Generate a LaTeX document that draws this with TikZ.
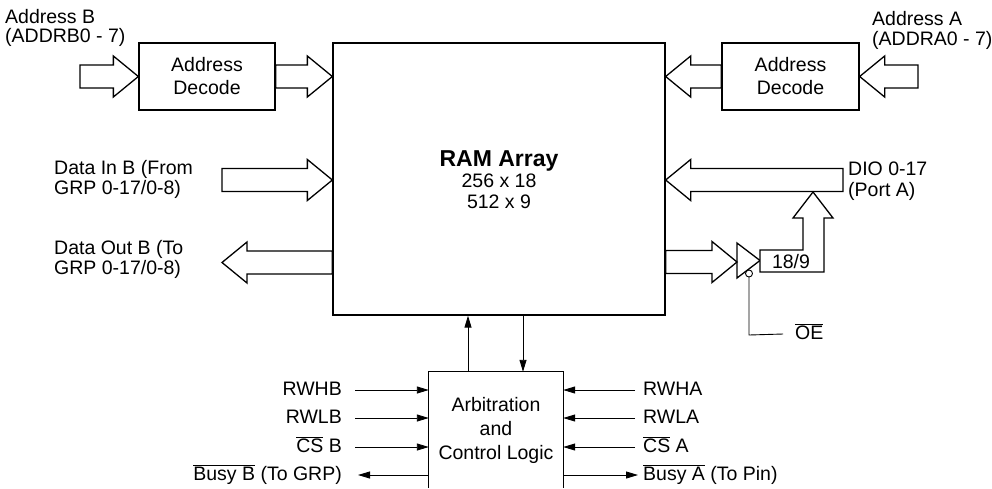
\documentclass[tikz,border=0pt]{standalone}
\usepackage{fontspec}
\setmainfont{Liberation Sans}
\usetikzlibrary{arrows.meta,calc}

\newcommand{\ovl}[1]{$\overline{\mbox{#1}}$}
% hollow bus arrow from tail #1 to tip #2 (horizontal)
\newcommand{\hbus}[2]{%
  \draw[bus] let \p1=(#1), \p2=(#2), \n1={sign(\x2-\x1)} in
    (\x1,\y2+11.5pt) -- ({\x2-(\n1)*25pt},\y2+11.5pt) -- ({\x2-(\n1)*25pt},\y2+20.5pt)
    -- (\x2,\y2) -- ({\x2-(\n1)*25pt},\y2-20.5pt) -- ({\x2-(\n1)*25pt},\y2-11.5pt)
    -- (\x1,\y2-11.5pt) -- cycle;}

\begin{document}
\begin{tikzpicture}[
  x=1pt, y=-1pt,
  font=\fontsize{19.5}{20}\selectfont,
  blk/.style={draw=black, line width=1.3pt, inner sep=0pt},
  bus/.style={draw=black, line width=1.3pt, fill=white, line join=miter},
  sig/.style={draw=black, line width=0.9pt, -{Triangle[length=12pt,width=7pt]}},
  lbl/.style={align=left, inner sep=0pt},
  pin/.style={inner sep=0pt, text height=14pt, text depth=4pt}
]
\useasboundingbox (0,0) rectangle (992,488);

% --- Blocks ---
\node[blk, minimum width=332, minimum height=272] (ram) at (499,179) {};
\node[align=center, font=\fontsize{19.5}{21}\selectfont] (ramtxt) at (499,180)
  {{\fontsize{23}{24}\selectfont\bfseries RAM Array}\\256 x 18\\512 x 9};
\node[blk, minimum width=136, minimum height=67, align=center,
  font=\fontsize{19.5}{23}\selectfont] (ldec) at (207,76.5) {Address\\Decode};
\node[blk, minimum width=137, minimum height=67, align=center,
  font=\fontsize{19.5}{23}\selectfont] (rdec) at (790.5,76.5) {Address\\Decode};
\node[minimum width=134, minimum height=116, inner sep=0pt, align=center,
  font=\fontsize{19.5}{24}\selectfont] (arb) at (496,430) {Arbitration\\and\\Control Logic};
\draw[blk] (arb.south west) -- (arb.north west) -- (arb.north east) -- (arb.south east);

% --- Port labels ---
\node[lbl, anchor=west, font=\fontsize{19.5}{19}\selectfont] (addrb) at (5,27.5) {Address B\\(ADDRB0 - 7)};
\node[lbl, anchor=west, font=\fontsize{19.5}{20}\selectfont] (addra) at (872,30) {Address A\\(ADDRA0 - 7)};
\node[lbl, anchor=west] (dinb) at (54,179) {Data In B (From\\GRP 0-17/0-8)};
\node[lbl, anchor=west] (doutb) at (54,259) {Data Out B (To\\GRP 0-17/0-8)};
\node[lbl, anchor=west, font=\fontsize{19.5}{21}\selectfont] (dio) at (848,181) {DIO 0-17\\(Port A)};

% --- Bus arrows ---
\coordinate (addrbin) at (80,76.5);
\coordinate (addrain) at (918,76.5);
\coordinate (dinbin) at (222,180);
\coordinate (doutbout) at (222,262.5);
\coordinate (dioin) at (843,180);
\coordinate (bufin) at (737,262);
\hbus{addrbin}{ldec.west}
\hbus{ldec.east}{ram.west |- ldec.east}
\hbus{addrain}{rdec.east}
\hbus{rdec.west}{ram.east |- rdec.west}
\hbus{dinbin}{ram.west |- dinbin}
\hbus{ram.west |- doutbout}{doutbout}
\hbus{dioin}{ram.east |- dioin}
\hbus{ram.east |- bufin}{bufin}

% --- Output buffer and 18/9 bus ---
\draw[blk] (bufin |- 0,243) -- (760,260.5) coordinate (bufout) -- (bufin |- 0,278) -- cycle;
\draw[line width=0.9pt] (749,273.5) circle (3.5);
\draw[bus] (bufout |- 0,250) -- (803,250) -- (803,218) -- (793,218) -- (813,192)
  -- (833,218) -- (824,218) -- (824,272) -- (bufout |- 0,272) -- cycle;
\node (w189) at (791,262) {18/9};
\node[pin, anchor=west] (oe) at (795,334) {\ovl{OE}};
\draw[line width=0.9pt] (749,277) -- (749,335) -- ([xshift=-12pt]oe.west);

% --- Control signals ---
\node[pin, anchor=east] (rwhb) at (342,390) {RWHB};
\node[pin, anchor=east] (rwlb) at (342,418) {RWLB};
\node[pin, anchor=east] (csb) at (342,447) {\ovl{CS} B};
\node[pin, anchor=east] (busyb) at (342,475) {\ovl{Busy B} (To GRP)};
\node[pin, anchor=west] (rwha) at (643,390) {RWHA};
\node[pin, anchor=west] (rwla) at (643,418) {RWLA};
\node[pin, anchor=west] (csa) at (643,447) {\ovl{CS} A};
\node[pin, anchor=west] (busya) at (643,475) {\ovl{Busy A} (To Pin)};
\foreach \s in {rwhb,rwlb,csb} {
  \draw[sig] ([xshift=13pt]\s.east) -- (\s.east -| arb.west);
}
\draw[sig] (busyb.east -| arb.west) -- ([xshift=16pt]busyb.east);
\foreach \s in {rwha,rwla,csa} {
  \draw[sig] ([xshift=-8pt]\s.west) -- (\s.west -| arb.east);
}
\draw[sig] (busya.west -| arb.east) -- ([xshift=-5pt]busya.west);

% --- RAM <-> arbitration ---
\draw[sig] ([xshift=-28pt]arb.north) -- ([xshift=-28pt]arb.north |- ram.south);
\draw[sig] ([xshift=27pt]arb.north |- ram.south) -- ([xshift=27pt]arb.north);

\end{tikzpicture}
\end{document}
